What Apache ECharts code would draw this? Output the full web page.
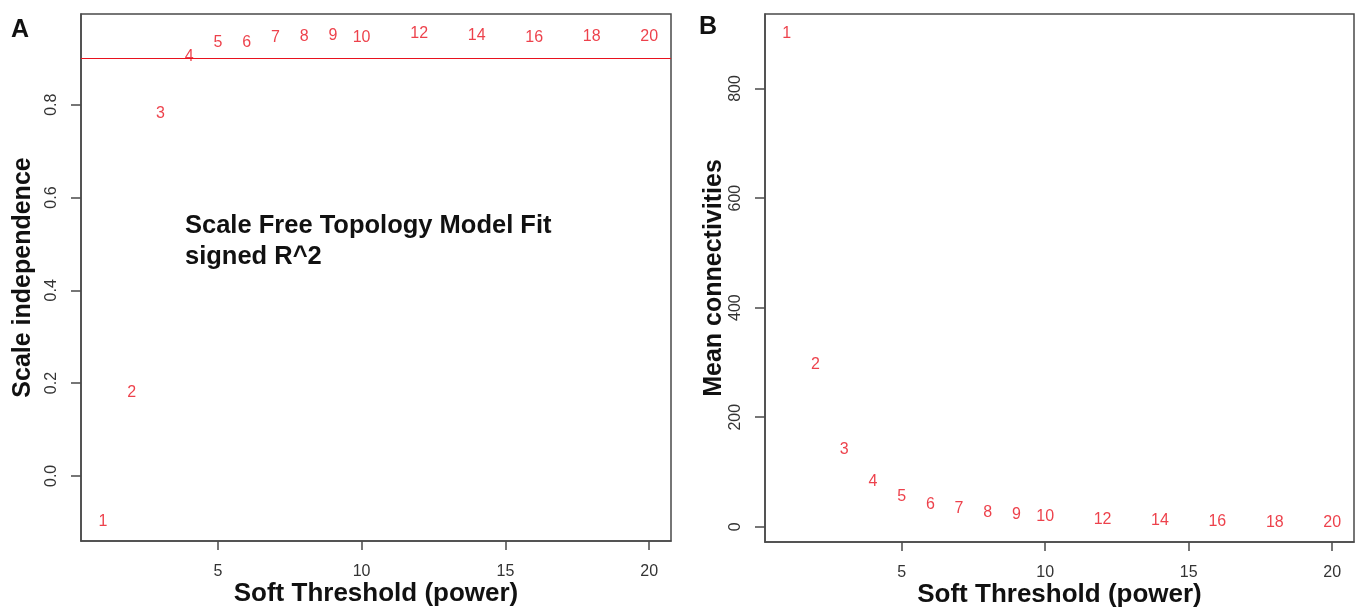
<!DOCTYPE html>
<html>
<head>
<meta charset="utf-8">
<title>Soft threshold</title>
<script src="https://cdn.jsdelivr.net/npm/echarts@6/dist/echarts.min.js"></script>
<style>
  html, body { margin: 0; padding: 0; background: #fff; }
  #myChart { width: 1355px; height: 611px; }
</style>
</head>
<body>
<div id="myChart"></div>
<script>
// soft threshold powers
const powers = [1, 2, 3, 4, 5, 6, 7, 8, 9, 10, 12, 14, 16, 18, 20]
// scale free topology fit (signed R^2)
const scaleIndependence = [-0.098, 0.179, 0.781, 0.904, 0.934, 0.934, 0.945, 0.946, 0.949, 0.945, 0.954, 0.948, 0.944, 0.946, 0.947]
// mean connectivity
const meanConnectivity = [900, 297, 141, 82, 55, 41, 33, 26, 22, 19, 14, 11.5, 10, 8.6, 7.1]
const cutHeight = 0.9

const xTicks = [5, 10, 15, 20]
const yTicksA = [0, 0.2, 0.4, 0.6, 0.8]
const yTicksB = [0, 200, 400, 600, 800]

const red = '#e8121e'
const frame = '#4a4a4a'
const font = 'Liberation Sans, Arial, sans-serif'

function pairs (ys) {
  return powers.map((p, i) => [p, ys[i]])
}

function xAxisOf (gridIndex) {
  return {
    gridIndex: gridIndex,
    type: 'value',
    min: 0.24,
    max: 20.76,
    name: 'Soft Threshold (power)',
    nameLocation: 'middle',
    nameGap: 40,
    nameMoveOverlap: false,
    nameTextStyle: { fontFamily: font, fontSize: 26, fontWeight: 'bold', color: '#111' },
    axisLine: { show: true, onZero: false, lineStyle: { color: frame, width: 1.5 } },
    axisTick: { show: true, length: 9, customValues: xTicks, lineStyle: { color: frame, width: 1.5 } },
    axisLabel: { customValues: xTicks, margin: 23, fontFamily: font, fontSize: 16, color: '#333' },
    splitLine: { show: false }
  }
}

function yAxisOf (gridIndex, min, max, ticks, name, gap, fmt) {
  return {
    gridIndex: gridIndex,
    type: 'value',
    min: min,
    max: max,
    name: name,
    nameLocation: 'middle',
    nameRotate: 90,
    nameGap: gap,
    nameMoveOverlap: false,
    nameTextStyle: { fontFamily: font, fontSize: 25, fontWeight: 'bold', color: '#111' },
    axisLine: { show: true, onZero: false, lineStyle: { color: frame, width: 1.5 } },
    axisTick: { show: true, length: 10, customValues: ticks, lineStyle: { color: frame, width: 1.5 } },
    axisLabel: { customValues: ticks, rotate: 90, margin: 21, fontFamily: font, fontSize: 16, color: '#333', formatter: fmt },
    splitLine: { show: false }
  }
}

const labelStyle = {
  show: true,
  position: 'inside',
  fontFamily: font,
  fontSize: 16,
  color: red,
  formatter: p => String(p.value[0])
}

const myChart = echarts.init(document.getElementById('myChart'))

const option = {
  backgroundColor: '#fff',
  animation: false,
  grid: [
    { left: 81, top: 14, width: 590, height: 527, outerBoundsMode: 'none', containLabel: false, show: true, borderColor: frame, borderWidth: 1.5 },
    { left: 765, top: 14, width: 589, height: 528, outerBoundsMode: 'none', containLabel: false, show: true, borderColor: frame, borderWidth: 1.5 }
  ],
  xAxis: [xAxisOf(0), xAxisOf(1)],
  yAxis: [
    yAxisOf(0, -0.1404, 0.9956, yTicksA, 'Scale independence', 45, v => v.toFixed(1)),
    yAxisOf(1, -27.7, 936, yTicksB, 'Mean connectivities', 38, v => String(v))
  ],
  series: [
    {
      type: 'scatter',
      xAxisIndex: 0,
      yAxisIndex: 0,
      symbolSize: 0,
      data: pairs(scaleIndependence),
      label: labelStyle,
      markLine: {
        silent: true,
        symbol: 'none',
        label: { show: false },
        lineStyle: { color: red, width: 1.2, type: 'solid', opacity: 1 },
        data: [{ yAxis: cutHeight }]
      }
    },
    {
      type: 'scatter',
      xAxisIndex: 1,
      yAxisIndex: 1,
      symbolSize: 0,
      data: pairs(meanConnectivity),
      label: labelStyle
    }
  ],
  graphic: [
    // panel letters
    { type: 'text', left: 11, top: 18, style: { text: 'A', fontFamily: font, fontSize: 25, fontWeight: 'bold', fill: '#111' } },
    { type: 'text', left: 699, top: 15, style: { text: 'B', fontFamily: font, fontSize: 25, fontWeight: 'bold', fill: '#111' } },
    // fit annotation
    {
      type: 'text',
      left: 185,
      top: 210,
      style: {
        text: 'Scale Free Topology Model Fit\nsigned R^2',
        fontFamily: font,
        fontSize: 25.5,
        fontWeight: 'bold',
        lineHeight: 31,
        fill: '#111'
      }
    }
  ]
}

myChart.setOption(option)
</script>
</body>
</html>
